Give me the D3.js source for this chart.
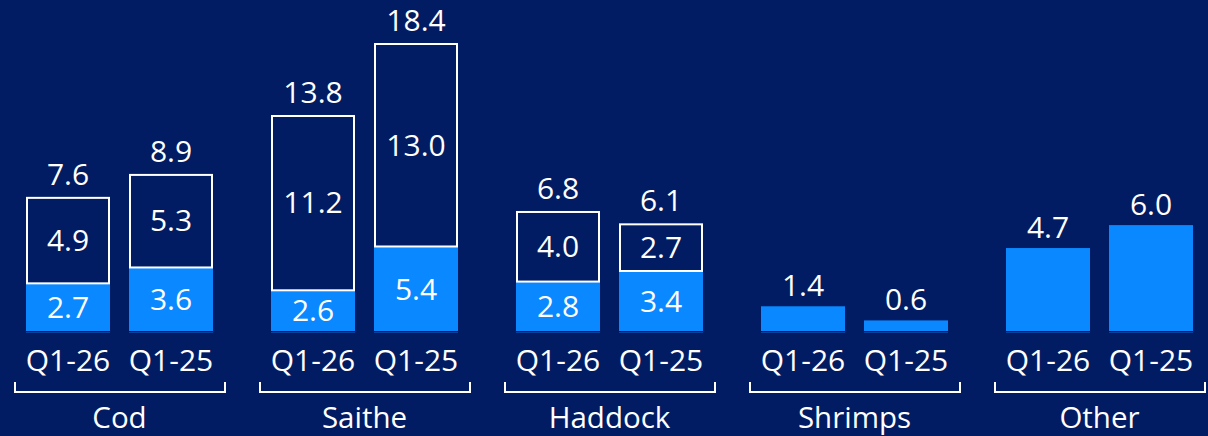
<!DOCTYPE html>
<html>
<head>
<meta charset="utf-8">
<script src="https://cdn.jsdelivr.net/npm/d3@7"></script>
<style>
  html, body { margin: 0; padding: 0; background: #011c62; }
  svg { display: block; }
  text { font-family: "Open Sans", "Noto Sans", sans-serif; fill: #ffffff; }
</style>
</head>
<body>
<svg id="chart" width="1208" height="436"></svg>
<script>
// ---- data ----
const categories = ["Cod", "Saithe", "Haddock", "Shrimps", "Other"];
const periods = ["Q1-26", "Q1-25"];
// bright-blue (lower) segment values, per category [Q1-26, Q1-25]
const lowerValues = [
  [2.7, 3.6],
  [2.6, 5.4],
  [2.8, 3.4],
  [1.4, 0.6],
  [4.7, 6.0]
];
// outlined (upper) segment values
const upperValues = [
  [4.9, 5.3],
  [11.2, 13.0],
  [4.0, 2.7],
  [0, 0],
  [0, 0]
];
// totals shown above each bar
const totalLabels = [
  ["7.6", "8.9"],
  ["13.8", "18.4"],
  ["6.8", "6.1"],
  ["1.4", "0.6"],
  ["4.7", "6.0"]
];

// ---- layout ----
const W = 1208, H = 436;
const baseY = 331;
const svg = d3.select("#chart");
svg.append("rect").attr("width", W).attr("height", H).attr("fill", "#011c62");

const x0 = d3.scaleBand().domain(categories).range([26, 1193]).paddingInner(58 / 245).paddingOuter(0);
const x1 = d3.scaleBand().domain(periods).range([0, x0.bandwidth()]).paddingInner(19 / 103).paddingOuter(0);

// Saithe was drawn on its own compressed scale in the original
const yMain = d3.scaleLinear().domain([0, 10]).range([baseY, baseY - 176.5]);
const ySaithe = d3.scaleLinear().domain([0, 18.4]).range([baseY, 43]);
const yFor = c => c === "Saithe" ? ySaithe : yMain;

const FS = 30;
const bright = "#0a88ff";

const rows = [];
categories.forEach((c, i) => {
  periods.forEach((p, j) => {
    rows.push({ c, p, lower: lowerValues[i][j], upper: upperValues[i][j], total: totalLabels[i][j] });
  });
});

const g = svg.append("g");
const bar = g.selectAll("g.bar").data(rows).join("g").attr("class", "bar")
  .attr("transform", d => `translate(${x0(d.c) + x1(d.p)},0)`);
const bw = x1.bandwidth();

// faint baseline under each bar
bar.append("line")
  .attr("x1", 0).attr("x2", bw)
  .attr("y1", baseY + 1.5).attr("y2", baseY + 1.5)
  .attr("stroke", "#0e3f9a").attr("stroke-width", 1);

// lower filled segment
bar.append("rect")
  .attr("x", 0).attr("width", bw)
  .attr("y", d => yFor(d.c)(d.lower))
  .attr("height", d => baseY - yFor(d.c)(d.lower))
  .attr("fill", bright);

// upper outlined segment
bar.filter(d => d.upper > 0).append("rect")
  .attr("x", 1).attr("width", bw - 2)
  .attr("y", d => yFor(d.c)(d.lower + d.upper) + 1)
  .attr("height", d => yFor(d.c)(d.lower) - yFor(d.c)(d.lower + d.upper) - 1)
  .attr("fill", "none").attr("stroke", "#ffffff").attr("stroke-width", 2);

// inner labels
bar.append("text")
  .attr("x", bw / 2).attr("text-anchor", "middle").attr("font-size", FS)
  .attr("y", d => (yFor(d.c)(d.lower) + baseY) / 2 + FS * 0.36)
  .text(d => d.upper > 0 ? d3.format(".1f")(d.lower) : "");

bar.filter(d => d.upper > 0).append("text")
  .attr("x", bw / 2).attr("text-anchor", "middle").attr("font-size", FS)
  .attr("y", d => (yFor(d.c)(d.lower) + yFor(d.c)(d.lower + d.upper)) / 2 + FS * 0.36)
  .text(d => d3.format(".1f")(d.upper));

// totals
bar.append("text")
  .attr("x", bw / 2).attr("text-anchor", "middle").attr("font-size", FS)
  .attr("y", d => yFor(d.c)(d.lower + d.upper) - (d.upper > 0 ? 12 : 10))
  .text(d => d.total);

// period labels
bar.append("text")
  .attr("x", bw / 2).attr("text-anchor", "middle").attr("font-size", FS)
  .attr("y", 370.5)
  .text(d => d.p);

// group brackets + labels
const grp = g.selectAll("g.grp").data(categories).join("g").attr("class", "grp")
  .attr("transform", c => `translate(${x0(c)},0)`);
grp.append("path")
  .attr("d", `M${-11},382 V392 H${x0.bandwidth() + 12} V382`)
  .attr("fill", "none").attr("stroke", "#ffffff").attr("stroke-width", 2);
grp.append("text")
  .attr("x", x0.bandwidth() / 2).attr("text-anchor", "middle").attr("font-size", 29.5)
  .attr("y", 427.5)
  .text(c => c);
</script>
</body>
</html>
